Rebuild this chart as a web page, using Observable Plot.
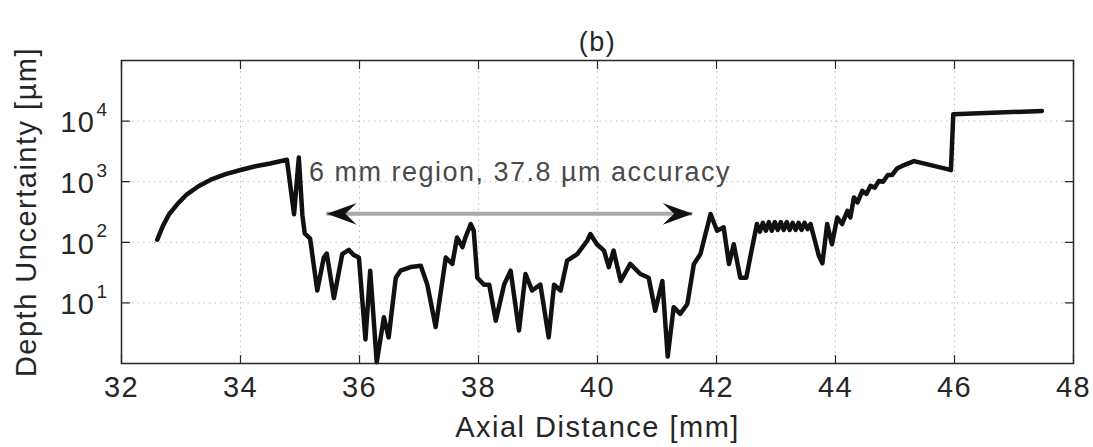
<!DOCTYPE html>
<html>
<head>
<meta charset="utf-8">
<script src="https://cdn.jsdelivr.net/npm/d3@7"></script>
<script src="https://cdn.jsdelivr.net/npm/@observablehq/plot@0.6"></script>
<style>
  body { margin: 0; background: #fff; }
  #chart svg { display: block; }
</style>
</head>
<body>
<div id="chart"></div>
<script>
// Depth uncertainty along the axial distance (log scale)
const axialMm = [
  32.60, 32.70, 32.80, 32.95, 33.10, 33.30, 33.50, 33.75, 34.00, 34.25, 34.50, 34.78,
  34.90, 34.98, 35.04, 35.08, 35.17, 35.29, 35.40, 35.45, 35.57, 35.71, 35.82, 35.90,
  35.99, 36.10, 36.18, 36.29, 36.41, 36.49, 36.61, 36.69, 36.86, 37.03, 37.14, 37.28,
  37.45, 37.56, 37.64, 37.73, 37.78, 37.87, 37.92, 37.98, 38.09, 38.18, 38.29, 38.43,
  38.54, 38.68, 38.79, 38.90, 39.04, 39.18, 39.27, 39.38, 39.49, 39.66, 39.83, 39.88,
  39.99, 40.11, 40.19, 40.27, 40.39, 40.55, 40.72, 40.86, 40.97, 41.09, 41.18, 41.28,
  41.39, 41.51, 41.62, 41.73, 41.90, 42.01, 42.12, 42.21, 42.29, 42.40, 42.50, 42.60,
  42.68, 42.73, 42.78, 42.83, 42.88, 42.93, 42.98, 43.03, 43.08, 43.13, 43.18, 43.23,
  43.28, 43.33, 43.38, 43.43, 43.48, 43.53, 43.58, 43.64, 43.72, 43.78, 43.86, 43.94,
  44.03, 44.11, 44.20, 44.25, 44.31, 44.37, 44.45, 44.52, 44.59, 44.66, 44.73, 44.80,
  44.88, 44.95, 45.04, 45.12, 45.32, 45.88, 45.94, 45.98, 47.47
];
const uncertaintyUm = [
  110, 190, 290, 440, 620, 850, 1080, 1330, 1560, 1800, 2000, 2300,
  290, 2500, 280, 140, 115, 16, 56, 65, 12, 64, 75, 62,
  56, 2.5, 34, 1.05, 5.8, 2.7, 26, 34, 39, 41, 20, 4,
  56, 44, 120, 83, 120, 200, 155, 26, 20, 20, 5.1, 20,
  34, 3.5, 30, 16, 20, 2.7, 20, 16, 50, 64, 107, 137,
  93, 73, 39, 73, 23, 44, 30, 26, 7.4, 23, 1.3, 8.5,
  6.6, 9.6, 44, 64, 293, 155, 177, 44, 93, 26, 26, 83,
  200, 150, 210, 155, 215, 155, 215, 160, 215, 160, 215, 160,
  210, 160, 210, 160, 210, 165, 200, 120, 60, 45, 200, 93,
  257, 200, 331, 257, 550, 456, 708, 627, 855, 797, 1030, 1000,
  1290, 1290, 1670, 1820, 2190, 1610, 1550, 13000, 14700
];

// Axis ticks
const xTicks = [32, 34, 36, 38, 40, 42, 44, 46, 48];
const yTicks = [10, 100, 1000, 10000];
const yExponents = ["1", "2", "3", "4"];

// Labels
const titleText = "(b)";
const xLabel = "Axial Distance [mm]";
const yLabel = "Depth Uncertainty [µm]";

// Annotated region
const annotationText = "6 mm region, 37.8 µm accuracy";
const annotationX = 35.15;
const annotationY = 1400;
const regionStart = 35.45;
const regionEnd = 41.6;
const regionLevel = 295;

const series = axialMm.map((x, i) => ({x, y: uncertaintyUm[i]}));
const arrowTips = [
  {x: regionStart, y: regionLevel, angle: 180},
  {x: regionEnd, y: regionLevel, angle: 0}
];

const ink = "#262626";

// Notched arrowhead pointing right, tip at the origin
const notchedHead = {
  draw(context, size) {
    const r = Math.sqrt(size / Math.PI);
    const L = 2 * r, W = 1.45 * r;
    context.moveTo(0, 0);
    context.lineTo(-L, -W / 2);
    context.lineTo(-0.62 * L, 0);
    context.lineTo(-L, W / 2);
    context.closePath();
  }
};

// Plain inward tick
const tickShape = {
  draw(context, length) {
    context.moveTo(0, 0);
    context.lineTo(0, -length);
  }
};

const tickOpts = {length: 8, anchor: "start", shape: tickShape, stroke: ink, strokeWidth: 1.2};

const chart = Plot.plot({
  width: 1093,
  height: 447,
  marginLeft: 121,
  marginRight: 20,
  marginTop: 60,
  marginBottom: 84,
  style: {
    fontFamily: "'Liberation Sans', Arial, Helvetica, sans-serif",
    fontSize: "29px",
    color: ink,
    background: "#fff",
    letterSpacing: "1.5px"
  },
  x: {domain: [32, 48]},
  y: {type: "log", domain: [1, 1e5]},
  marks: [
    Plot.gridX(xTicks, {stroke: "#bdbdbd", strokeOpacity: 1, strokeDasharray: "1.5,4"}),
    Plot.gridY(yTicks, {stroke: "#bdbdbd", strokeOpacity: 1, strokeDasharray: "1.5,4"}),
    Plot.axisX({ticks: xTicks, tickSize: 0, tickPadding: 13, label: null, fill: ink}),
    Plot.axisY({ticks: yTicks, tickSize: 0, tickPadding: 26, tickFormat: () => "10", label: null, fill: ink, dy: 2}),
    Plot.text(yTicks, {y: (d) => d, text: (d, i) => yExponents[i], frameAnchor: "left", textAnchor: "end", dx: -13, dy: -11, fontSize: 19, fill: ink}),
    Plot.vector(xTicks, {x: (d) => d, frameAnchor: "bottom", rotate: 0, ...tickOpts}),
    Plot.vector(xTicks, {x: (d) => d, frameAnchor: "top", rotate: 180, ...tickOpts}),
    Plot.vector(yTicks, {y: (d) => d, frameAnchor: "left", rotate: 90, ...tickOpts}),
    Plot.vector(yTicks, {y: (d) => d, frameAnchor: "right", rotate: -90, ...tickOpts}),
    Plot.line(series, {x: "x", y: "y", stroke: "#111", strokeWidth: 4.5, strokeLinejoin: "round", strokeLinecap: "round"}),
    Plot.ruleY([regionLevel], {x1: regionStart, x2: regionEnd, stroke: "#a8a8a8", strokeWidth: 4}),
    Plot.dot(arrowTips, {x: "x", y: "y", r: 15, symbol: notchedHead, rotate: "angle", fill: "#111", stroke: "none"}),
    Plot.text([annotationText], {x: annotationX, y: annotationY, textAnchor: "start", lineAnchor: "middle", fontSize: 27, fill: "#4a4a4a", letterSpacing: "1.3px"}),
    Plot.text([titleText], {frameAnchor: "top", dy: -18, textAnchor: "middle", lineAnchor: "middle", fontSize: 27, fill: ink}),
    Plot.text([xLabel], {frameAnchor: "bottom", dy: 64, textAnchor: "middle", lineAnchor: "middle", fill: ink}),
    Plot.text([yLabel], {frameAnchor: "left", rotate: -90, dx: -95, textAnchor: "middle", lineAnchor: "middle", fill: ink}),
    Plot.frame({stroke: ink, strokeWidth: 1.5})
  ]
});

document.getElementById("chart").appendChild(chart);
</script>
</body>
</html>
